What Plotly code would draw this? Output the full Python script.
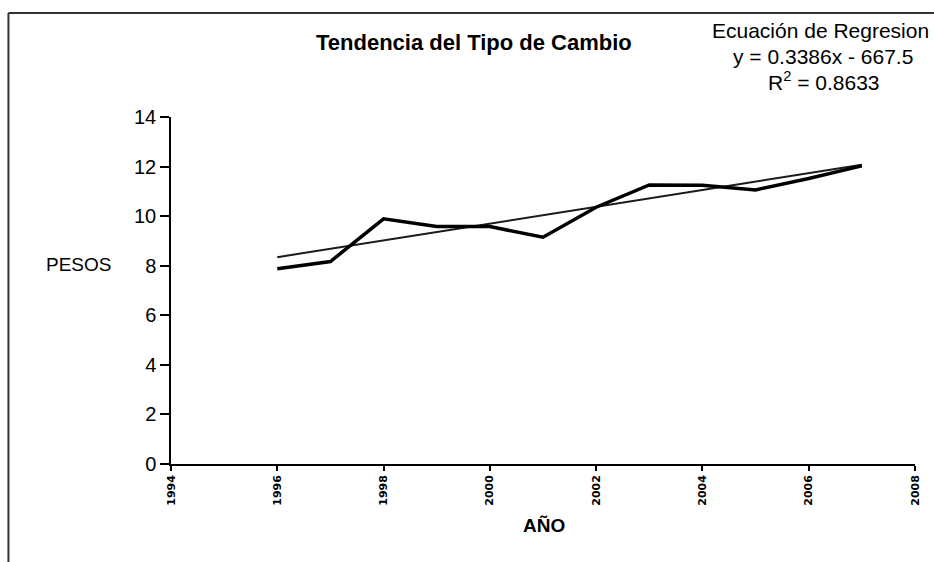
import plotly.graph_objects as go

# ---- data ----
years = [1996, 1997, 1998, 1999, 2000, 2001, 2002, 2003, 2004, 2005, 2006, 2007]
pesos = [7.88, 8.17, 9.89, 9.58, 9.58, 9.15, 10.36, 11.26, 11.25, 11.06, 11.52, 12.03]
slope = 0.3386
intercept = -667.5
r2 = 0.8633
x_ticks = [1994, 1996, 1998, 2000, 2002, 2004, 2006, 2008]
y_ticks = [0, 2, 4, 6, 8, 10, 12, 14]

trend_x = [years[0], years[-1]]
trend_y = [slope * x + intercept for x in trend_x]

# ---- layout geometry (pixels) ----
W, H = 934, 562
L, R, T, B = 171, 17, 117, 98
PW, PH = W - L - R, H - T - B


def px(x):
    return (x - L) / PW


def py(y):
    return (H - B - y) / PH


NARROW = "Liberation Sans Narrow, Arial Narrow, Liberation Sans, Arial"
SANS = "Liberation Sans, Arial, sans-serif"

fig = go.Figure()
fig.add_trace(go.Scatter(x=trend_x, y=trend_y, mode="lines",
                         line=dict(color="#1a1a1a", width=2), showlegend=False))
fig.add_trace(go.Scatter(x=years, y=pesos, mode="lines",
                         line=dict(color="black", width=3.5), showlegend=False))

fig.update_layout(
    width=W, height=H,
    margin=dict(l=L, r=R, t=T, b=B, pad=0),
    paper_bgcolor="white", plot_bgcolor="white",
    xaxis=dict(range=[1994, 2008], tickvals=x_ticks, tickangle=-90,
               ticks="outside", ticklen=5, tickcolor="black", tickwidth=1.5,
               showline=True, linecolor="black", linewidth=1.5,
               showgrid=False, zeroline=False,
               tickfont=dict(family="DejaVu Sans", size=11, color="black", weight="bold")),
    yaxis=dict(range=[0, 14], tickvals=y_ticks,
               ticks="outside", ticklen=9, tickcolor="black", tickwidth=1.5,
               showline=True, linecolor="black", linewidth=1.5,
               showgrid=False, zeroline=False,
               tickfont=dict(family=NARROW, size=20, color="black")),
    font=dict(family=SANS, color="black"),
)

ann = [
    dict(text="<b>Tendencia del Tipo de Cambio</b>", x=px(475), y=py(42),
         font=dict(family=SANS, size=22, color="black")),
    dict(text="Ecuación de Regresion", x=px(822), y=py(30),
         font=dict(family=SANS, size=21, color="black")),
    dict(text=f"y = {slope}x - {abs(intercept)}", x=px(825), y=py(56),
         font=dict(family=SANS, size=21, color="black")),
    dict(text=f"R<sup>2</sup> = {r2}", x=px(826), y=py(81),
         font=dict(family=SANS, size=21, color="black")),
    dict(text="PESOS", x=px(78), y=py(264),
         font=dict(family=NARROW, size=19, color="black")),
    dict(text="<b>AÑO</b>", x=px(545), y=py(525),
         font=dict(family=SANS, size=19, color="black")),
]
for a in ann:
    fig.add_annotation(xref="paper", yref="paper", showarrow=False,
                       xanchor="center", yanchor="middle", **a)

# outer border (top and left edges visible)
fig.add_shape(type="line", xref="paper", yref="paper",
              x0=px(8), y0=py(13), x1=px(W + 5), y1=py(13),
              line=dict(color="#333", width=2))
fig.add_shape(type="line", xref="paper", yref="paper",
              x0=px(8), y0=py(13), x1=px(8), y1=py(H + 5),
              line=dict(color="#333", width=2))

fig.write_html("out.html", config={"displayModeBar": False},
               post_script="document.body.style.margin='0';document.body.style.overflow='hidden';")
